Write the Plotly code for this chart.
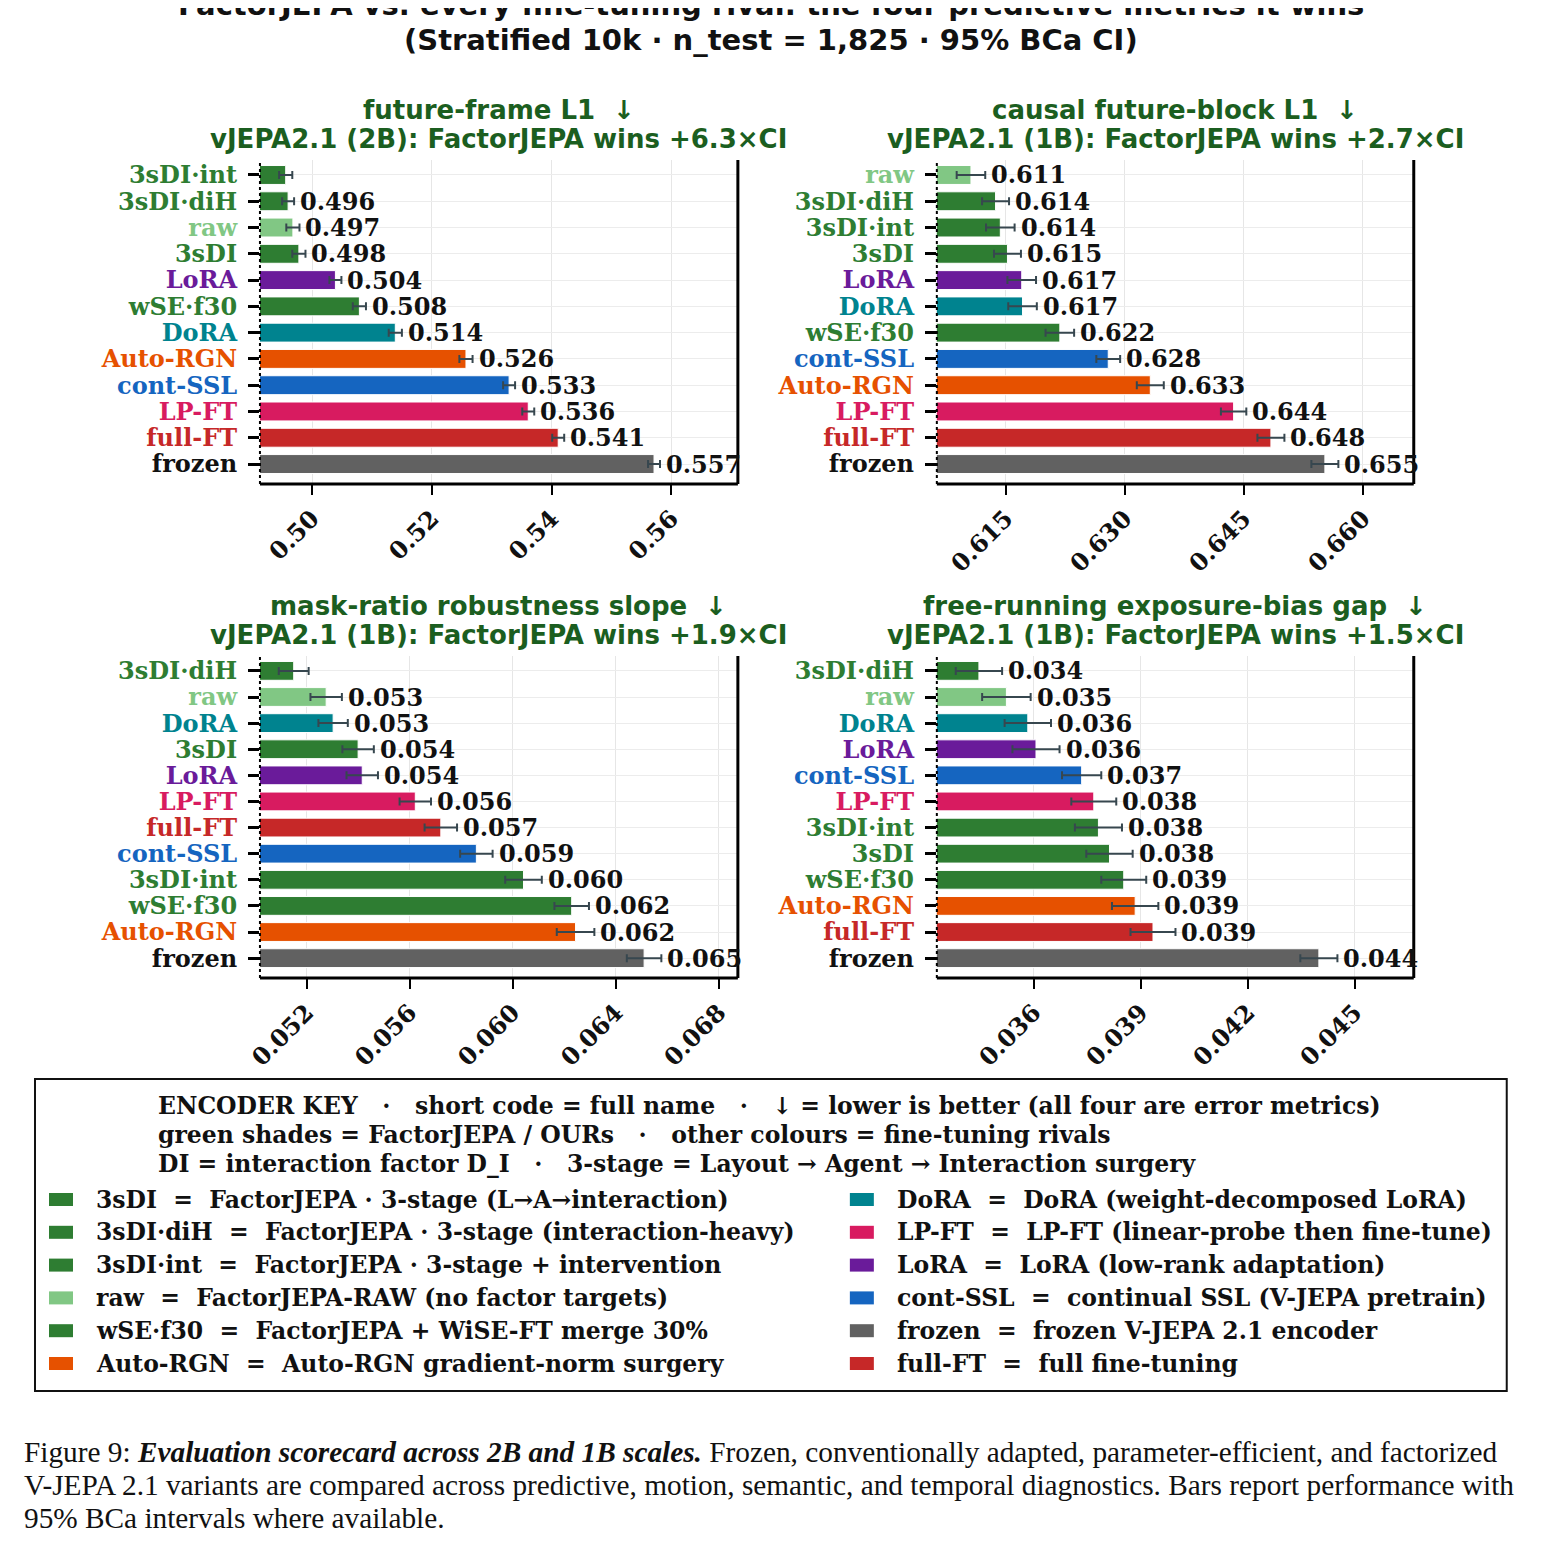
import plotly.graph_objects as go

# page is 1542x1549 with an 8px body margin, so the figure is kept inside it
W, H = 1526, 1533

# ---- data ------------------------------------------------------------------
names_ff = ["3sDI·int", "3sDI·diH", "raw", "3sDI", "LoRA", "wSE·f30", "DoRA",
            "Auto-RGN", "cont-SSL", "LP-FT", "full-FT", "frozen"]
vals_ff = [0.4956, 0.4960, 0.4968, 0.4978, 0.5039, 0.5079, 0.5139,
           0.5257, 0.5329, 0.5361, 0.5411, 0.5571]
err_ff = [0.0011, 0.0010, 0.0011, 0.0011, 0.0010, 0.0011, 0.0011,
          0.0011, 0.0010, 0.0010, 0.0010, 0.0010]

names_cb = ["raw", "3sDI·diH", "3sDI·int", "3sDI", "LoRA", "DoRA", "wSE·f30",
            "cont-SSL", "Auto-RGN", "LP-FT", "full-FT", "frozen"]
vals_cb = [0.6106, 0.6137, 0.6143, 0.6152, 0.6170, 0.6171, 0.6218,
           0.6279, 0.6332, 0.6437, 0.6484, 0.6552]
err_cb = [0.0018, 0.0017, 0.0018, 0.0017, 0.0018, 0.0018, 0.0018,
          0.0015, 0.0017, 0.0016, 0.0017, 0.0017]

names_mr = ["3sDI·diH", "raw", "DoRA", "3sDI", "LoRA", "LP-FT", "full-FT",
            "cont-SSL", "3sDI·int", "wSE·f30", "Auto-RGN", "frozen"]
vals_mr = [0.05150, 0.05276, 0.05303, 0.05400, 0.05416, 0.05622, 0.05721,
           0.05859, 0.06042, 0.06229, 0.06244, 0.06510]
err_mr = [0.00058, 0.00061, 0.00057, 0.00061, 0.00061, 0.00061, 0.00063,
          0.00063, 0.00071, 0.00067, 0.00073, 0.00067]

names_eb = ["3sDI·diH", "raw", "DoRA", "LoRA", "cont-SSL", "LP-FT", "3sDI·int",
            "3sDI", "wSE·f30", "Auto-RGN", "full-FT", "frozen"]
vals_eb = [0.03446, 0.03523, 0.03583, 0.03606, 0.03734, 0.03768, 0.03781,
           0.03812, 0.03852, 0.03884, 0.03934, 0.04399]
err_eb = [0.00065, 0.00068, 0.00065, 0.00066, 0.00055, 0.00063, 0.00066,
          0.00065, 0.00063, 0.00065, 0.00063, 0.00052]

# top bar of panels 1 and 3 carries no value label in the original
show_ff = [False] + [True] * 11
show_cb = [True] * 12
show_mr = [False] + [True] * 11
show_eb = [True] * 12

ticks_ff = [0.50, 0.52, 0.54, 0.56]
ticks_cb = [0.615, 0.630, 0.645, 0.660]
ticks_mr = [0.052, 0.056, 0.060, 0.064, 0.068]
ticks_eb = [0.036, 0.039, 0.042, 0.045]

metrics = ["future-frame L1", "causal future-block L1",
           "mask-ratio robustness slope", "free-running exposure-bias gap"]
subtitles = ["vJEPA2.1 (2B): FactorJEPA wins +6.3×CI",
             "vJEPA2.1 (1B): FactorJEPA wins +2.7×CI",
             "vJEPA2.1 (1B): FactorJEPA wins +1.9×CI",
             "vJEPA2.1 (1B): FactorJEPA wins +1.5×CI"]

colors = {
    "3sDI": "#2e7d32", "3sDI·diH": "#2e7d32", "3sDI·int": "#2e7d32",
    "wSE·f30": "#2e7d32", "raw": "#81c784", "LoRA": "#6a1b9a",
    "DoRA": "#00838f", "Auto-RGN": "#e65100", "cont-SSL": "#1565c0",
    "LP-FT": "#d81b60", "full-FT": "#c62828", "frozen": "#616161",
}
label_colors = dict(colors, frozen="#111111")

legend_left = [
    ("3sDI", "3sDI  =  FactorJEPA · 3-stage (L→A→interaction)"),
    ("3sDI·diH", "3sDI·diH  =  FactorJEPA · 3-stage (interaction-heavy)"),
    ("3sDI·int", "3sDI·int  =  FactorJEPA · 3-stage + intervention"),
    ("raw", "raw  =  FactorJEPA-RAW (no factor targets)"),
    ("wSE·f30", "wSE·f30  =  FactorJEPA + WiSE-FT merge 30%"),
    ("Auto-RGN", "Auto-RGN  =  Auto-RGN gradient-norm surgery"),
]
legend_right = [
    ("DoRA", "DoRA  =  DoRA (weight-decomposed LoRA)"),
    ("LP-FT", "LP-FT  =  LP-FT (linear-probe then fine-tune)"),
    ("LoRA", "LoRA  =  LoRA (low-rank adaptation)"),
    ("cont-SSL", "cont-SSL  =  continual SSL (V-JEPA pretrain)"),
    ("frozen", "frozen  =  frozen V-JEPA 2.1 encoder"),
    ("full-FT", "full-FT  =  full fine-tuning"),
]
key_lines = [
    "ENCODER KEY   ·   short code = full name   ·   ↓ = lower is better (all four are error metrics)",
    "green shades = FactorJEPA / OURs   ·   other colours = fine-tuning rivals",
    "DI = interaction factor D_I   ·   3-stage = Layout → Agent → Interaction surgery",
]
caption_lines = [
    "Figure 9: <b><i>Evaluation scorecard across 2B and 1B scales.</i></b> Frozen, conventionally adapted, parameter-efficient, and factorized",
    "V-JEPA 2.1 variants are compared across predictive, motion, semantic, and temporal diagnostics. Bars report performance with",
    "95% BCa intervals where available.",
]

panels = [
    (names_ff, vals_ff, err_ff, show_ff, ticks_ff, ".2f", [0.4913, 0.5711]),
    (names_cb, vals_cb, err_cb, show_cb, ticks_cb, ".3f", [0.6063, 0.6664]),
    (names_mr, vals_mr, err_mr, show_mr, ticks_mr, ".3f", [0.05019, 0.06874]),
    (names_eb, vals_eb, err_eb, show_eb, ticks_eb, ".3f", [0.03328, 0.04665]),
]


# ---- layout helpers (target picture pixel -> paper) --------------------------
# measured from probe renders: picture_x = 22 + 0.991 * paper_x,
# picture_y = 8 + paper_y
def px(x):
    return max((x - 22) / 0.991, 0) / W


def py(y):
    return 1 - (y - 8) / H


col_px = [(260, 738), (937, 1414)]
row_px = [(160, 484), (656, 978)]

SERIF = "DejaVu Serif"
SANS = "DejaVu Sans"
TITLE_GREEN = "#1b5e20"

fig = go.Figure()
annotations = []
shapes = []

for i, (names, vals, errs, show, ticks, tfmt, xr) in enumerate(panels):
    r, c = divmod(i, 2)
    sfx = "" if i == 0 else str(i + 1)
    xa, ya = "x" + sfx, "y" + sfx

    fig.add_trace(
        go.Bar(
            x=vals,
            y=names,
            orientation="h",
            xaxis=xa,
            yaxis=ya,
            width=0.72,
            marker=dict(color=[colors[n] for n in names],
                        line=dict(color="white", width=1)),
            error_x=dict(type="data", array=errs, color="#37474f",
                         thickness=2, width=4),
            showlegend=False,
        )
    )

    for n, v, e, s in zip(names, vals, errs, show):
        if not s:
            continue
        annotations.append(dict(
            x=v + e, y=n, xref=xa, yref=ya, text=f"{v:.3f}",
            showarrow=False, xanchor="left", yanchor="middle", xshift=4,
            font=dict(family=SERIF, size=24, color="#111111", weight="bold"),
        ))

    x0, x1 = col_px[c]
    y0, y1 = row_px[r]
    fig.update_layout({
        ("xaxis" + sfx): dict(
            domain=[px(x0), px(x1)], anchor=ya, range=xr,
            tickvals=ticks, tickformat=tfmt, tickangle=-45,
            ticks="outside", ticklen=10, tickwidth=2, tickcolor="black",
            tickfont=dict(family=SERIF, size=24, color="#111111", weight="bold"),
            showgrid=True, gridcolor="#e6e6e6", gridwidth=1,
            showline=False, zeroline=False,
        ),
        ("yaxis" + sfx): dict(
            domain=[py(y1), py(y0)], anchor=xa,
            type="category", categoryorder="array", categoryarray=names,
            range=[len(names) - 1 + 0.76, -0.57],
            tickvals=names,
            ticktext=[f'<span style="color:{label_colors[n]}">{n}</span>'
                      for n in names],
            ticks="outside", ticklen=11, tickwidth=3, tickcolor="black",
            ticklabelstandoff=6,
            tickfont=dict(family=SERIF, size=24, weight="bold"),
            showgrid=True, gridcolor="#ececec", gridwidth=1,
            showline=False, zeroline=False,
        ),
    })

    # spines: dotted left, solid bottom and right
    shapes.append(dict(type="line", xref=xa + " domain", yref=ya + " domain",
                       x0=0, x1=0, y0=0, y1=1,
                       line=dict(color="black", width=2, dash="dot")))
    shapes.append(dict(type="line", xref=xa + " domain", yref=ya + " domain",
                       x0=0, x1=1, y0=0, y1=0,
                       line=dict(color="black", width=3)))
    shapes.append(dict(type="line", xref=xa + " domain", yref=ya + " domain",
                       x0=1, x1=1, y0=0, y1=1,
                       line=dict(color="black", width=3)))

    cx = (x0 + x1) / 2
    annotations.append(dict(
        x=px(cx), y=py(y0 - 50), xref="paper", yref="paper",
        text=f"{metrics[i]}  ↓", showarrow=False, xanchor="center",
        yanchor="middle",
        font=dict(family=SANS, size=26, color=TITLE_GREEN, weight="bold"),
    ))
    annotations.append(dict(
        x=px(cx), y=py(y0 - 21), xref="paper", yref="paper",
        text=subtitles[i], showarrow=False, xanchor="center",
        yanchor="middle",
        font=dict(family=SANS, size=26, color=TITLE_GREEN, weight="bold"),
    ))

# ---- suptitle (top line partly cut by the page edge, as in the original) ----
annotations.append(dict(
    x=px(771), y=py(5), xref="paper", yref="paper",
    text="FactorJEPA vs. every fine-tuning rival: the four predictive metrics it wins",
    showarrow=False, xanchor="center", yanchor="middle",
    font=dict(family=SANS, size=29, color="#111111", weight="bold"),
))
annotations.append(dict(
    x=px(771), y=py(40), xref="paper", yref="paper",
    text="(Stratified 10k · n_test = 1,825 · 95% BCa CI)",
    showarrow=False, xanchor="center", yanchor="middle",
    font=dict(family=SANS, size=29, color="#111111", weight="bold"),
))

# ---- encoder key box -------------------------------------------------------
shapes.append(dict(type="rect", xref="paper", yref="paper",
                   x0=px(35), x1=px(1507), y0=py(1391), y1=py(1079),
                   line=dict(color="#111111", width=2), fillcolor="white",
                   layer="below"))

for k, line in enumerate(key_lines):
    annotations.append(dict(
        x=px(156), y=py(1106 + 29 * k), xref="paper", yref="paper",
        text=line, showarrow=False, xanchor="left", yanchor="middle",
        font=dict(family=SERIF, size=23.5, color="#111111", weight="bold"),
    ))

for col, (entries, sx, tx) in enumerate([(legend_left, 49, 94),
                                          (legend_right, 850, 895)]):
    for k, (code, label) in enumerate(entries):
        yc = 1199.5 + 32.8 * k
        shapes.append(dict(type="rect", xref="paper", yref="paper",
                           x0=px(sx), x1=px(sx + 24),
                           y0=py(yc + 6.5), y1=py(yc - 6.5),
                           line=dict(width=0), fillcolor=colors[code]))
        annotations.append(dict(
            x=px(tx), y=py(yc), xref="paper", yref="paper", text=label,
            showarrow=False, xanchor="left", yanchor="middle",
            font=dict(family=SERIF, size=23.5, color="#111111", weight="bold"),
        ))

# ---- figure caption --------------------------------------------------------
for k, line in enumerate(caption_lines):
    annotations.append(dict(
        x=px(15), y=py(1452 + 33 * k), xref="paper", yref="paper",
        text=line, showarrow=False, xanchor="left", yanchor="middle",
        font=dict(family="Liberation Serif", size=29.3, color="#111111"),
    ))

fig.update_layout(
    width=W,
    height=H,
    margin=dict(l=0, r=0, t=0, b=0),
    paper_bgcolor="white",
    plot_bgcolor="white",
    annotations=annotations,
    shapes=shapes,
)

fig.write_html("out.html")
